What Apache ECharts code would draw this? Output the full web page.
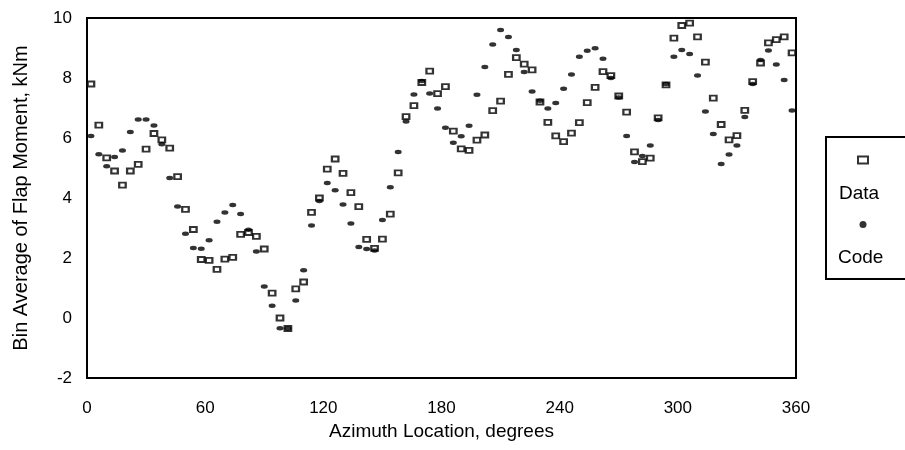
<!DOCTYPE html>
<html>
<head>
<meta charset="utf-8">
<title>Bin Average of Flap Moment</title>
<script src="https://cdn.jsdelivr.net/npm/echarts@6/dist/echarts.min.js"></script>
<style>
  html, body { margin: 0; padding: 0; background: #fff; }
  #chart { width: 905px; height: 450px; }
</style>
</head>
<body>
<div id="chart"></div>
<script>
// azimuth bins, degrees (4 degree bins)
const azimuth = [
  2, 6, 10, 14, 18, 22, 26, 30, 34, 38, 42, 46, 50, 54, 58, 62, 66, 70,
  74, 78, 82, 86, 90, 94, 98, 102, 106, 110, 114, 118, 122, 126, 130, 134,
  138, 142, 146, 150, 154, 158, 162, 166, 170, 174, 178, 182, 186, 190, 194,
  198, 202, 206, 210, 214, 218, 222, 226, 230, 234, 238, 242, 246, 250, 254,
  258, 262, 266, 270, 274, 278, 282, 286, 290, 294, 298, 302, 306, 310, 314,
  318, 322, 326, 330, 334, 338, 342, 346, 350, 354, 358
]

// measured flap moment, kNm
const dataValues = [
  7.8, 6.43, 5.34, 4.9, 4.43, 4.9, 5.12, 5.63, 6.15, 5.94, 5.66, 4.71, 3.62, 2.95, 1.95, 1.92, 1.62, 1.96,
  2.02, 2.79, 2.85, 2.72, 2.3, 0.83, 0.0, -0.35, 0.97, 1.2, 3.52, 4.0, 4.96, 5.3, 4.82, 4.18,
  3.71, 2.62, 2.32, 2.63, 3.46, 4.84, 6.71, 7.08, 7.85, 8.23, 7.48, 7.71, 6.23, 5.64, 5.59,
  5.93, 6.1, 6.91, 7.23, 8.12, 8.68, 8.46, 8.27, 7.2, 6.52, 6.07, 5.88, 6.16, 6.51, 7.18,
  7.69, 8.21, 8.08, 7.4, 6.86, 5.54, 5.21, 5.33, 6.67, 7.77, 9.33, 9.75, 9.83, 9.37, 8.53,
  7.33, 6.45, 5.94, 6.08, 6.92, 7.88, 8.5, 9.17, 9.28, 9.37, 8.84
]

// code prediction, kNm
const codeValues = [
  6.07, 5.46, 5.06, 5.37, 5.58, 6.2, 6.62, 6.62, 6.42, 5.79, 4.67, 3.72, 2.81, 2.33, 2.31, 2.59, 3.21, 3.52,
  3.77, 3.47, 2.94, 2.22, 1.05, 0.41, -0.34, -0.35, 0.58, 1.59, 3.08, 3.9, 4.5, 4.26, 3.78, 3.15,
  2.37, 2.3, 2.25, 3.27, 4.36, 5.53, 6.55, 7.45, 7.9, 7.48, 6.98, 6.34, 5.84, 6.06, 6.41,
  7.44, 8.37, 9.12, 9.6, 9.37, 8.93, 8.2, 7.55, 7.24, 6.98, 7.17, 7.64, 8.12, 8.71, 8.91,
  8.99, 8.64, 8.0, 7.35, 6.07, 5.2, 5.4, 5.75, 6.6, 7.8, 8.71, 8.93, 8.8, 8.08, 6.88,
  6.13, 5.13, 5.45, 5.75, 6.7, 7.8, 8.6, 8.92, 8.45, 7.93, 6.92
]

const legendNames = ['Data', 'Code']

const pairs = (xs, ys) => xs.map((x, i) => [x, ys[i]])
const font = 'Liberation Sans, Arial, sans-serif'

const chart = echarts.init(document.getElementById('chart'))

chart.setOption({
  backgroundColor: '#fff',
  animation: false,
  textStyle: { fontFamily: font },
  grid: {
    left: 87, right: 109, top: 18, bottom: 72,
    show: true,
    borderColor: '#000',
    borderWidth: 2
  },
  legend: {
    data: legendNames,
    orient: 'vertical',
    left: 857,
    top: 155.5,
    padding: 0,
    itemWidth: 10,
    itemHeight: 7,
    itemGap: 56.5,
    formatter: () => '',
    selectedMode: false
  },
  xAxis: {
    type: 'value',
    min: 0,
    max: 360,
    interval: 60,
    name: 'Azimuth Location, degrees',
    nameLocation: 'middle',
    nameGap: 35,
    nameTextStyle: { color: '#000', fontSize: 19, fontFamily: font },
    axisLine: { show: true, onZero: false, lineStyle: { color: '#000', width: 2 } },
    axisTick: { show: false },
    splitLine: { show: false },
    axisLabel: { color: '#000', fontSize: 17, margin: 22, fontFamily: font }
  },
  yAxis: {
    type: 'value',
    min: -2,
    max: 10,
    interval: 2,
    name: 'Bin Average of Flap Moment, kNm',
    nameLocation: 'middle',
    nameGap: 56,
    nameTextStyle: { color: '#000', fontSize: 20, fontFamily: font },
    axisLine: { show: true, onZero: false, lineStyle: { color: '#000', width: 2 } },
    axisTick: { show: false },
    splitLine: { show: false },
    axisLabel: { color: '#000', fontSize: 17, margin: 15, fontFamily: font }
  },
  graphic: [
    {
      type: 'rect',
      shape: { x: 826, y: 137, width: 85, height: 142 },
      style: { fill: 'none', stroke: '#000', lineWidth: 2 },
      z: 1
    },
    {
      type: 'text',
      left: 839, top: 184,
      style: { text: legendNames[0], font: '19px ' + font, fill: '#000' }
    },
    {
      type: 'text',
      left: 838, top: 248,
      style: { text: legendNames[1], font: '19px ' + font, fill: '#000' }
    }
  ],
  series: [
    {
      name: 'Data',
      type: 'scatter',
      data: pairs(azimuth, dataValues),
      symbol: 'rect',
      symbolSize: [6.5, 5],
      itemStyle: { color: '#fff', borderColor: '#000', borderWidth: 2 },
      z: 2
    },
    {
      name: 'Code',
      type: 'scatter',
      data: pairs(azimuth, codeValues),
      symbol: 'circle',
      symbolSize: [7, 4.5],
      itemStyle: { color: '#000' },
      z: 3
    }
  ]
})
</script>
</body>
</html>
